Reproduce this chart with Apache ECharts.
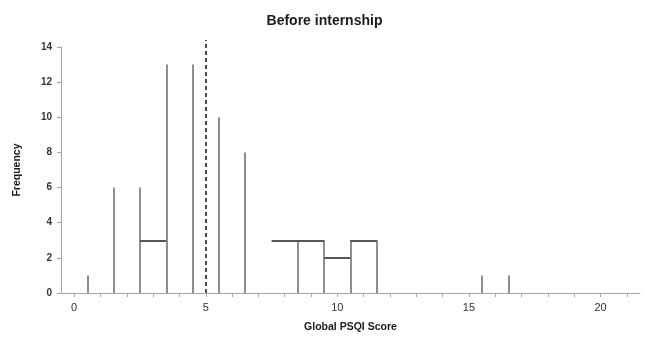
<!DOCTYPE html>
<html>
<head>
<meta charset="utf-8">
<script src="https://cdn.jsdelivr.net/npm/echarts@6/dist/echarts.min.js"></script>
<style>
html,body{margin:0;padding:0;background:#fff;}
#chart{width:649px;height:338px;}
</style>
</head>
<body>
<div id="chart"></div>
<script>
// Vertical spikes (bin edges) and their heights
const spikeX = [0.5, 1.5, 2.5, 3.5, 4.5, 5.5, 6.5, 8.5, 9.5, 10.5, 11.5, 15.5, 16.5];
const spikeHeight = [1, 6, 6, 13, 13, 10, 8, 3, 3, 3, 3, 1, 1];
// Horizontal level segments
const levelStart = [2.5, 7.5, 9.5, 10.5];
const levelEnd = [3.5, 9.5, 10.5, 11.5];
const levelHeight = [3, 3, 2, 3];
// Cutoff (dashed) line
const cutoffX = 5;
const cutoffTop = 14.4;
// Axis ticks
const xTicks = [0,1,2,3,4,5,6,7,8,9,10,11,12,13,14,15,16,17,18,19,20,21];
const xLabels = [0, 5, 10, 15, 20];
const yTicks = [0, 2, 4, 6, 8, 10, 12, 14];

const FONT = 'Liberation Sans';

const spikes = spikeX.map((x, i) => ({ coords: [[x, 0], [x, spikeHeight[i]]] }));
const levels = levelStart.map((x, i) => ({ coords: [[x, levelHeight[i]], [levelEnd[i], levelHeight[i]]] }));

const chart = echarts.init(document.getElementById('chart'), null, { renderer: 'canvas' });
chart.setOption({
  animation: false,
  backgroundColor: '#ffffff',
  title: {
    text: 'Before internship',
    left: 'center',
    top: 9,
    textStyle: { fontFamily: FONT, fontSize: 14, fontWeight: 'bold', color: '#1a1a1a' }
  },
  grid: { left: 61, right: 9, top: 47, bottom: 44, containLabel: false },
  xAxis: {
    type: 'value',
    min: -0.5,
    max: 21.5,
    name: 'Global PSQI Score',
    nameLocation: 'middle',
    nameGap: 29,
    nameTextStyle: { fontFamily: FONT, fontSize: 10.5, fontWeight: 'bold', color: '#1a1a1a' },
    axisLine: { show: true, onZero: false, lineStyle: { color: '#a6a6a6', width: 1 } },
    axisTick: { show: true, customValues: xTicks, length: 4, lineStyle: { color: '#a6a6a6' } },
    axisLabel: { customValues: xLabels, margin: 9, fontFamily: FONT, fontSize: 11, color: '#333' },
    splitLine: { show: false }
  },
  yAxis: {
    type: 'value',
    min: 0,
    max: 14,
    interval: 2,
    name: 'Frequency',
    nameLocation: 'middle',
    nameGap: 38,
    nameTextStyle: { fontFamily: FONT, fontSize: 10.5, fontWeight: 'bold', color: '#1a1a1a' },
    axisLine: { show: true, onZero: false, lineStyle: { color: '#a6a6a6', width: 1 } },
    axisTick: { show: true, customValues: yTicks, length: 4, lineStyle: { color: '#a6a6a6' } },
    axisLabel: { customValues: yTicks, margin: 9, fontFamily: FONT, fontSize: 10, color: '#333', fontWeight: 'bold' },
    splitLine: { show: false }
  },
  series: [
    {
      type: 'lines',
      coordinateSystem: 'cartesian2d',
      data: spikes,
      lineStyle: { color: '#8f8f8f', width: 2, opacity: 1 },
      silent: true
    },
    {
      type: 'lines',
      coordinateSystem: 'cartesian2d',
      data: levels,
      lineStyle: { color: '#555555', width: 2, opacity: 1 },
      silent: true,
      z: 3
    },
    {
      type: 'lines',
      coordinateSystem: 'cartesian2d',
      clip: false,
      data: [{ coords: [[cutoffX, 0], [cutoffX, cutoffTop]] }],
      lineStyle: { color: '#111111', width: 1.5, type: [4, 3], opacity: 1 },
      silent: true,
      z: 4
    }
  ]
});
</script>
</body>
</html>
